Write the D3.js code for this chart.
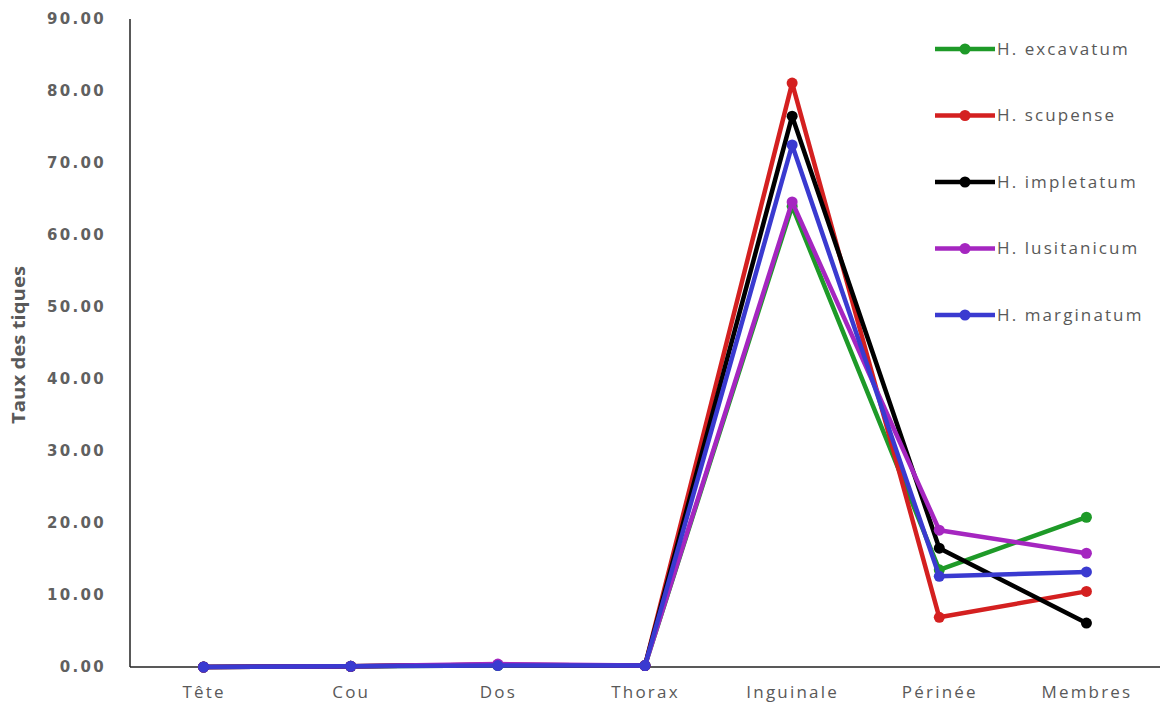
<!DOCTYPE html>
<html>
<head>
<meta charset="utf-8">
<script src="https://cdn.jsdelivr.net/npm/d3@7"></script>
<style>
  html, body { margin: 0; padding: 0; background: #fff; }
  svg { display: block; }
</style>
</head>
<body>
<svg id="chart" width="1165" height="713"></svg>
<script>
// Body regions where ticks were collected
const categories = ["Tête", "Cou", "Dos", "Thorax", "Inguinale", "Périnée", "Membres"];

// Tick rate (%) per body region for each Hyalomma species
const excavatum   = [0.00, 0.10, 0.20, 0.20, 64.00, 13.50, 20.80];
const scupense    = [0.00, 0.10, 0.30, 0.20, 81.10,  6.90, 10.50];
const impletatum  = [0.00, 0.10, 0.30, 0.20, 76.50, 16.50,  6.10];
const lusitanicum = [0.00, 0.10, 0.40, 0.20, 64.60, 19.00, 15.80];
const marginatum  = [0.00, 0.10, 0.20, 0.20, 72.50, 12.60, 13.20];

const seriesNames  = ["H. excavatum", "H. scupense", "H. impletatum", "H. lusitanicum", "H. marginatum"];
const seriesColors = ["#1e9a28", "#d42020", "#000000", "#a526c0", "#3a3ad0"];
const yTicks = [0, 10, 20, 30, 40, 50, 60, 70, 80, 90];

const series = [excavatum, scupense, impletatum, lusitanicum, marginatum].map((v, i) => ({
  name: seriesNames[i], color: seriesColors[i], values: v
}));

const svg = d3.select("#chart");
const plotLeft = 130, plotRight = 1160, plotTop = 19, plotBottom = 667;

const x = d3.scalePoint().domain(categories).range([plotLeft, plotRight]).padding(0.5);
const y = d3.scaleLinear().domain([0, 90]).range([plotBottom, plotTop]);

// Y tick labels
const yAxis = d3.axisLeft(y).tickValues(yTicks).tickFormat(d3.format(".2f")).tickSize(0).tickPadding(24);
const gy = svg.append("g").attr("transform", `translate(${plotLeft},0)`).call(yAxis);
gy.select(".domain").remove();
gy.selectAll("text")
  .attr("font-family", "'DejaVu Sans', sans-serif")
  .attr("font-size", 15).attr("font-weight", "bold").attr("fill", "#606060")
  .attr("letter-spacing", "2.3px");

// X category labels
const xAxis = d3.axisBottom(x).tickSize(0).tickPadding(19);
const gx = svg.append("g").attr("transform", `translate(0,${plotBottom})`).call(xAxis);
gx.select(".domain").remove();
gx.selectAll("text")
  .attr("font-family", "'Open Sans', 'Noto Sans', sans-serif")
  .attr("font-size", 17).attr("fill", "#595959").attr("letter-spacing", "2.2px");

// Axis lines
svg.append("line").attr("x1", plotLeft).attr("x2", plotLeft).attr("y1", plotTop).attr("y2", plotBottom)
  .attr("stroke", "#222").attr("stroke-width", 1.5);
svg.append("line").attr("x1", plotLeft).attr("x2", plotRight).attr("y1", plotBottom).attr("y2", plotBottom)
  .attr("stroke", "#222").attr("stroke-width", 1.5);

// Y axis title
svg.append("text")
  .attr("transform", `translate(25,${(plotTop + plotBottom) / 2 + 2}) rotate(-90)`)
  .attr("text-anchor", "middle")
  .attr("font-family", "'Open Sans', 'DejaVu Sans', sans-serif")
  .attr("font-size", 17).attr("font-weight", "bold").attr("fill", "#595959")
  .attr("textLength", 158).attr("lengthAdjust", "spacingAndGlyphs")
  .text("Taux des tiques");

// Lines with point markers
const line = d3.line().x((d, i) => x(categories[i])).y(d => y(d));
const gs = svg.append("g").selectAll("g").data(series).join("g");
gs.append("path")
  .attr("d", d => line(d.values))
  .attr("fill", "none").attr("stroke", d => d.color)
  .attr("stroke-width", 4.5).attr("stroke-linejoin", "round");
gs.selectAll("circle").data(d => d.values.map(v => ({ v, c: d.color })))
  .join("circle")
  .attr("cx", (d, i) => x(categories[i])).attr("cy", d => y(d.v))
  .attr("r", 5.5).attr("fill", d => d.c);

// Legend
const legend = svg.append("g").selectAll("g").data(series).join("g")
  .attr("transform", (d, i) => `translate(935,${49 + i * 66.5})`);
legend.append("line").attr("x1", 0).attr("x2", 60).attr("stroke", d => d.color).attr("stroke-width", 4.5);
legend.append("circle").attr("cx", 30).attr("r", 5.5).attr("fill", d => d.color);
legend.append("text").attr("x", 62).attr("dy", "0.35em")
  .attr("font-family", "'Open Sans', 'Noto Sans', sans-serif")
  .attr("font-size", 17).attr("fill", "#595959").attr("letter-spacing", "2.1px")
  .text(d => d.name);
</script>
</body>
</html>
